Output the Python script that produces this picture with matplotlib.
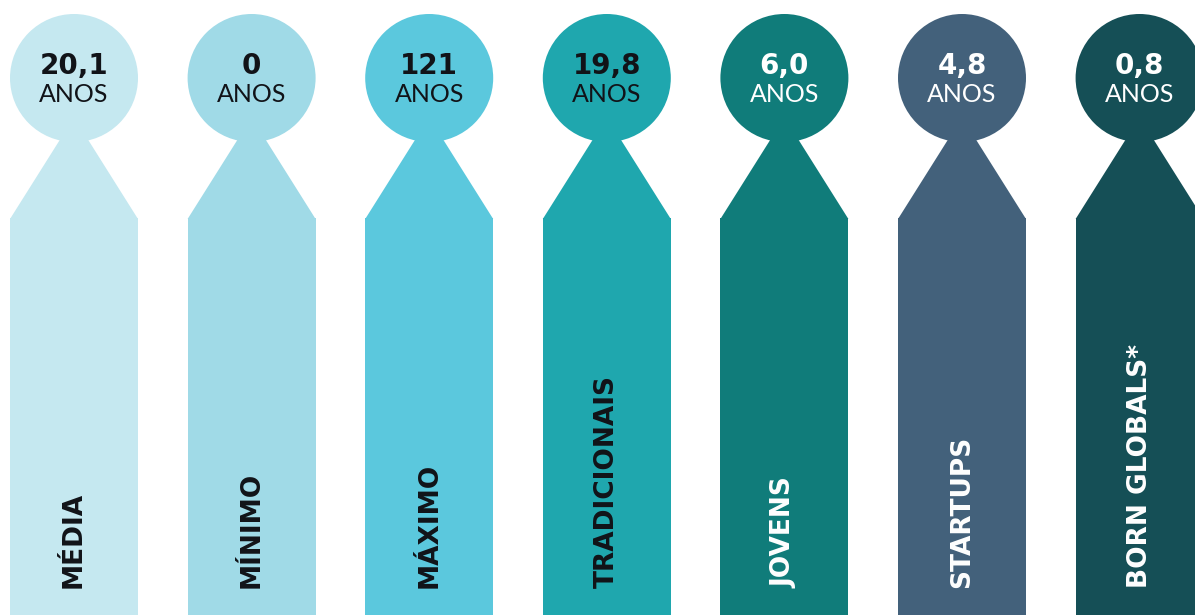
import matplotlib
matplotlib.use("Agg")
import matplotlib.pyplot as plt
from matplotlib.patches import Circle, Polygon, Rectangle

values = ["20,1", "0", "121", "19,8", "6,0", "4,8", "0,8"]
labels = ["MÉDIA", "MÍNIMO", "MÁXIMO", "TRADICIONAIS", "JOVENS", "STARTUPS", "BORN GLOBALS*"]
unit = "ANOS"
colors = ["#C5E8F0", "#A0DAE7", "#5BC8DD", "#1FA7AE", "#107C7A", "#43617B", "#154F56"]
text_colors = ["#111318", "#111318", "#111318", "#111318", "#FFFFFF", "#FFFFFF", "#FFFFFF"]

W, H = 1195, 615
fig = plt.figure(figsize=(W / 100, H / 100), dpi=100)
ax = fig.add_axes([0, 0, 1, 1])
ax.set_xlim(0, W)
ax.set_ylim(H, 0)
ax.axis("off")

x0 = 74.0
step = 177.6
half_w = 64.0
r = 64.0
cy = 78.0
neck_y = 138.0
neck_half = 13.0
base_y = 218.0

for i, (v, lab, c, tc) in enumerate(zip(values, labels, colors, text_colors)):
    cx = x0 + i * step
    ax.add_patch(Rectangle((cx - half_w, base_y), 2 * half_w, H - base_y + 5, color=c, lw=0))
    ax.add_patch(Polygon([(cx - neck_half, neck_y), (cx + neck_half, neck_y),
                          (cx + half_w, base_y + 1), (cx - half_w, base_y + 1)],
                         closed=True, color=c, lw=0))
    ax.add_patch(Circle((cx, cy), r, color=c, lw=0))
    ax.text(cx, 66, v, ha="center", va="center", fontsize=20, fontweight="heavy",
            family=["DejaVu Sans"], color=tc)
    ax.text(cx, 95, unit, ha="center", va="center", fontsize=18, fontweight="normal",
            family=["Lato", "DejaVu Sans"], color=tc)
    ax.text(cx, 588, lab, ha="center", va="bottom", rotation=90, fontsize=19,
            fontweight="heavy", family=["DejaVu Sans"], color=tc)

fig.savefig("out.png", dpi=100)
